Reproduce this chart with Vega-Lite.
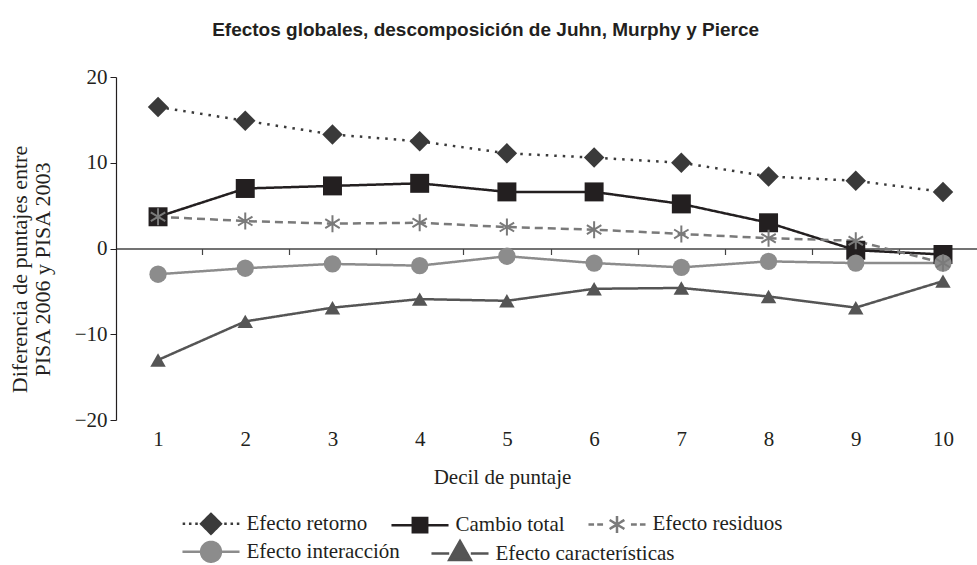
{
  "$schema": "https://vega.github.io/schema/vega-lite/v6.json",
  "width": 861,
  "height": 343,
  "autosize": {"type": "none"},
  "padding": {"left": 116, "top": 77, "right": 0, "bottom": 145},
  "background": "white",
  "title": {
    "text": "Efectos globales, descomposición de Juhn, Murphy y Pierce",
    "font": "Liberation Sans",
    "fontSize": 19,
    "fontWeight": "bold",
    "color": "#231f20",
    "anchor": "middle",
    "frame": "bounds",
    "offset": 26,
    "dx": -7
  },
  "config": {
    "view": {"stroke": null},
    "axis": {
      "labelFont": "Liberation Serif",
      "titleFont": "Liberation Serif",
      "labelFontSize": 21,
      "titleFontSize": 21,
      "labelColor": "#231f20",
      "titleColor": "#231f20",
      "titleFontWeight": "normal",
      "grid": false,
      "domainColor": "#231f20",
      "tickColor": "#231f20"
    }
  },
  "data": {
    "values": [
      {"decil": 1, "serie": "Efecto retorno", "valor": 16.5},
      {"decil": 2, "serie": "Efecto retorno", "valor": 14.9},
      {"decil": 3, "serie": "Efecto retorno", "valor": 13.3},
      {"decil": 4, "serie": "Efecto retorno", "valor": 12.5},
      {"decil": 5, "serie": "Efecto retorno", "valor": 11.1},
      {"decil": 6, "serie": "Efecto retorno", "valor": 10.6},
      {"decil": 7, "serie": "Efecto retorno", "valor": 10.0},
      {"decil": 8, "serie": "Efecto retorno", "valor": 8.4},
      {"decil": 9, "serie": "Efecto retorno", "valor": 7.9},
      {"decil": 10, "serie": "Efecto retorno", "valor": 6.6},
      {"decil": 1, "serie": "Cambio total", "valor": 3.7},
      {"decil": 2, "serie": "Cambio total", "valor": 7.0},
      {"decil": 3, "serie": "Cambio total", "valor": 7.3},
      {"decil": 4, "serie": "Cambio total", "valor": 7.6},
      {"decil": 5, "serie": "Cambio total", "valor": 6.6},
      {"decil": 6, "serie": "Cambio total", "valor": 6.6},
      {"decil": 7, "serie": "Cambio total", "valor": 5.2},
      {"decil": 8, "serie": "Cambio total", "valor": 3.0},
      {"decil": 9, "serie": "Cambio total", "valor": -0.2},
      {"decil": 10, "serie": "Cambio total", "valor": -0.7},
      {"decil": 1, "serie": "Efecto residuos", "valor": 3.7},
      {"decil": 2, "serie": "Efecto residuos", "valor": 3.2},
      {"decil": 3, "serie": "Efecto residuos", "valor": 2.9},
      {"decil": 4, "serie": "Efecto residuos", "valor": 3.0},
      {"decil": 5, "serie": "Efecto residuos", "valor": 2.5},
      {"decil": 6, "serie": "Efecto residuos", "valor": 2.2},
      {"decil": 7, "serie": "Efecto residuos", "valor": 1.7},
      {"decil": 8, "serie": "Efecto residuos", "valor": 1.2},
      {"decil": 9, "serie": "Efecto residuos", "valor": 0.9},
      {"decil": 10, "serie": "Efecto residuos", "valor": -1.7},
      {"decil": 1, "serie": "Efecto interacción", "valor": -3.0},
      {"decil": 2, "serie": "Efecto interacción", "valor": -2.3},
      {"decil": 3, "serie": "Efecto interacción", "valor": -1.8},
      {"decil": 4, "serie": "Efecto interacción", "valor": -2.0},
      {"decil": 5, "serie": "Efecto interacción", "valor": -0.9},
      {"decil": 6, "serie": "Efecto interacción", "valor": -1.7},
      {"decil": 7, "serie": "Efecto interacción", "valor": -2.2},
      {"decil": 8, "serie": "Efecto interacción", "valor": -1.5},
      {"decil": 9, "serie": "Efecto interacción", "valor": -1.7},
      {"decil": 10, "serie": "Efecto interacción", "valor": -1.7},
      {"decil": 1, "serie": "Efecto características", "valor": -13.0},
      {"decil": 2, "serie": "Efecto características", "valor": -8.5},
      {"decil": 3, "serie": "Efecto características", "valor": -6.9},
      {"decil": 4, "serie": "Efecto características", "valor": -5.9},
      {"decil": 5, "serie": "Efecto características", "valor": -6.1},
      {"decil": 6, "serie": "Efecto características", "valor": -4.7},
      {"decil": 7, "serie": "Efecto características", "valor": -4.6},
      {"decil": 8, "serie": "Efecto características", "valor": -5.6},
      {"decil": 9, "serie": "Efecto características", "valor": -6.9},
      {"decil": 10, "serie": "Efecto características", "valor": -3.8}
    ]
  },
  "resolve": {"scale": {"x": "shared"}, "axis": {"x": "independent"}},
  "encoding": {
    "y": {
      "field": "valor",
      "type": "quantitative",
      "scale": {"domain": [-20, 20], "nice": false, "zero": false},
      "axis": {
        "values": [-20, -10, 0, 10, 20],
        "tickSize": 6,
        "labelPadding": 3,
        "domainWidth": 1.2,
        "title": ["Diferencia de puntajes entre", "PISA 2006 y PISA 2003"],
        "titleFontSize": 22,
        "titlePadding": 20,
        "titleY": 192,
        "titleLineHeight": 23
      }
    },
    "color": {
      "field": "serie",
      "type": "nominal",
      "scale": {
        "domain": ["Efecto retorno", "Cambio total", "Efecto residuos", "Efecto interacción", "Efecto características"],
        "range": ["#3a3a3a", "#231f20", "#7a7a7a", "#8c8c8c", "#555555"]
      },
      "legend": {
        "values": ["Efecto retorno", "Cambio total", "Efecto residuos"],
        "orient": "none",
        "legendX": 65,
        "legendY": 436,
        "direction": "horizontal",
        "columnPadding": 18,
        "title": null,
        "labelFont": "Liberation Serif",
        "labelFontSize": 21,
        "labelColor": "#231f20",
        "labelLimit": 400,
        "symbolSize": 324,
        "symbolOffset": 19.5,
        "labelOffset": 25,
        "symbolStrokeWidth": 2.5,
        "encode": {
          "symbols": {
            "update": {
              "shape": {"signal": "datum.value === 'Efecto retorno' ? 'M-3.15,0L-2.87,0M-2.45,0L-2.17,0M-1.75,0L-1.47,0M1.47,0L1.75,0M2.17,0L2.45,0M2.87,0L3.15,0M0,-1.1L1.1,0L0,1.1L-1.1,0Z' : datum.value === 'Cambio total' ? 'M-3.17,0L-0.8,0M0.8,0L3.17,0M-0.8,-0.8L0.8,-0.8L0.8,0.8L-0.8,0.8Z' : 'M-3.17,0L-2.55,0M-2.2,0L-1.55,0M1.55,0L2.2,0M2.55,0L3.17,0M0,-0.95L0,0.95M-0.82,-0.5L0.82,0.5M-0.82,0.5L0.82,-0.5'"},
              "strokeDash": {"value": [1, 0]},
              "size": {"value": 324},
              "fill": {"scale": "color", "field": "value"},
              "stroke": {"scale": "color", "field": "value"},
              "strokeWidth": {"value": 2.5},
              "opacity": {"value": 1}
            }
          }
        }
      }
    }
  },
  "layer": [
    {
      "mark": {"type": "line", "strokeWidth": 2.5},
      "encoding": {
        "x": {
          "field": "decil",
          "type": "quantitative",
          "scale": {"domain": [0.518, 10.39], "nice": false, "zero": false},
          "axis": {
            "orient": "bottom",
            "values": [1, 2, 3, 4, 5, 6, 7, 8, 9, 10],
            "ticks": false,
            "tickSize": 0,
            "domain": false,
            "labelPadding": 8,
            "title": "Decil de puntaje",
            "titleX": 386,
            "titlePadding": 17
          }
        },
        "strokeDash": {
          "field": "serie",
          "type": "nominal",
          "scale": {
            "domain": ["Efecto interacción", "Efecto características", "Efecto retorno", "Cambio total", "Efecto residuos"],
            "range": [[1, 0], [1, 0], [2.5, 6], [1, 0], [8, 5]]
          },
          "legend": {
            "values": ["Efecto interacción", "Efecto características"],
            "orient": "none",
            "legendX": 65,
            "legendY": 464,
            "direction": "horizontal",
            "columnPadding": 26,
            "title": null,
            "labelFont": "Liberation Serif",
            "labelFontSize": 21,
            "labelColor": "#231f20",
            "labelLimit": 400,
            "symbolSize": 324,
            "symbolOffset": 19.5,
            "labelOffset": 25,
            "symbolStrokeWidth": 2.5,
            "encode": {
              "symbols": {
                "update": {
                  "shape": {"signal": "datum.value === 'Efecto interacción' ? 'M-3.17,0L-1.1,0M1.1,0L3.17,0M1.1,0A1.1,1.1,0,1,1,-1.1,0A1.1,1.1,0,1,1,1.1,0Z' : 'M-3.17,0L-1.2,0M1.2,0L3.17,0M0,-1.4L1.2,0.7L-1.2,0.7Z'"},
                  "strokeDash": {"value": [1, 0]},
                  "size": {"value": 324},
                  "fill": {"scale": "color", "field": "value"},
                  "stroke": {"scale": "color", "field": "value"},
                  "strokeWidth": {"value": 2.5},
                  "opacity": {"value": 1}
                }
              }
            }
          }
        }
      }
    },
    {
      "transform": [{"filter": "datum.serie !== 'Efecto residuos'"}],
      "mark": {"type": "point", "filled": true, "opacity": 1},
      "encoding": {
        "x": {
          "field": "decil",
          "type": "quantitative",
          "axis": {
            "orient": "bottom",
            "offset": -171.5,
            "values": [1.5, 2.5, 3.5, 4.5, 5.5, 6.5, 7.5, 8.5, 9.5],
            "labels": false,
            "ticks": true,
            "tickSize": 6,
            "tickWidth": 1.2,
            "domain": true,
            "domainWidth": 1.5,
            "domainColor": "#444444",
            "tickColor": "#444444",
            "title": null
          }
        },
        "shape": {
          "field": "serie",
          "type": "nominal",
          "scale": {
            "domain": ["Efecto retorno", "Cambio total", "Efecto interacción", "Efecto características"],
            "range": ["diamond", "square", "circle", "triangle-up"]
          },
          "legend": null
        },
        "size": {
          "field": "serie",
          "type": "nominal",
          "scale": {
            "domain": ["Efecto retorno", "Cambio total", "Efecto interacción", "Efecto características"],
            "range": [420, 240, 400, 500]
          },
          "legend": null
        }
      }
    },
    {
      "transform": [{"filter": "datum.serie === 'Efecto residuos'"}],
      "mark": {
        "type": "point",
        "filled": false,
        "opacity": 1,
        "strokeWidth": 2,
        "shape": "M0,-1L0,1M-0.85,-0.52L0.85,0.52M-0.85,0.52L0.85,-0.52",
        "size": 289
      },
      "encoding": {
        "x": {"field": "decil", "type": "quantitative", "axis": null}
      }
    }
  ]
}
